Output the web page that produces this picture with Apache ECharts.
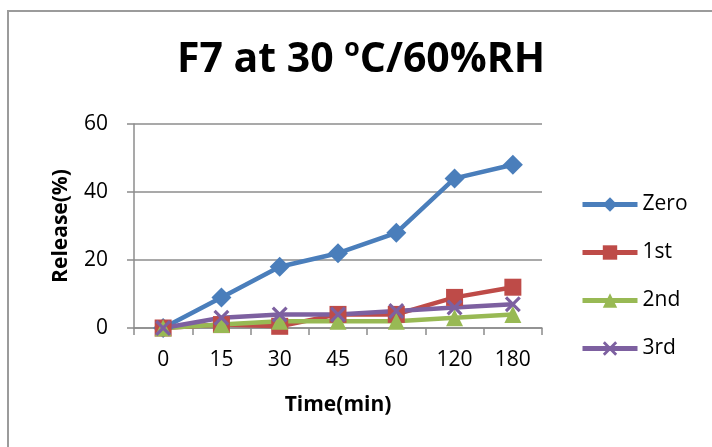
<!DOCTYPE html>
<html>
<head>
<meta charset="utf-8">
<script src="https://cdn.jsdelivr.net/npm/echarts@6/dist/echarts.min.js"></script>
<style>
  html, body { margin: 0; padding: 0; background: #fff; }
  #chart { width: 712px; height: 447px; }
</style>
</head>
<body>
<div id="chart"></div>
<script>
// Sampling times (min)
const times = ['0', '15', '30', '45', '60', '120', '180'];
// Release (%) per order
const zero = [0, 9, 18, 22, 28, 44, 48];
const first = [0, 1, 0.5, 4, 4, 9, 12];
const second = [0, 1, 2, 2, 2, 3, 4];
const third = [0, 3, 4, 4, 5, 6, 7];
const yTicks = { min: 0, max: 60, step: 20 };

const FONT = '"Open Sans", sans-serif';
const GRID = '#8c8c8c';
const crossPath = 'path://M0,1.4L1.4,0L5,3.6L8.6,0L10,1.4L6.4,5L10,8.6L8.6,10L5,6.4L1.4,10L0,8.6L3.6,5Z';

function series(name, data, color, symbol, size) {
  return {
    name: name,
    type: 'line',
    data: data,
    symbol: symbol,
    symbolSize: size,
    lineStyle: { color: color, width: 4.5 },
    itemStyle: { color: color },
    emphasis: { disabled: true },
    animation: false
  };
}

const chart = echarts.init(document.getElementById('chart'), null, { renderer: 'canvas' });
chart.setOption({
  backgroundColor: '#fff',
  animation: false,
  graphic: [{
    type: 'rect',
    shape: { x: 8, y: 11, width: 740, height: 470 },
    style: { fill: 'none', stroke: '#9b9b9b', lineWidth: 2 },
    silent: true
  }],
  title: {
    text: '{a|F7 at 30 }{s|o}{a|C/60%RH}',
    left: 172,
    top: 30,
    textStyle: {
      rich: {
        a: { fontFamily: FONT, fontWeight: 'bold', fontSize: 41, color: '#000', lineHeight: 50 },
        s: { fontFamily: FONT, fontWeight: 'bold', fontSize: 25, color: '#000', lineHeight: 50, padding: [0, 0, 22, 0] }
      }
    }
  },
  grid: { left: 134, right: 170, top: 124, bottom: 119, containLabel: false },
  legend: {
    orient: 'vertical',
    left: 575,
    top: 189,
    itemWidth: 55,
    itemHeight: 18,
    itemGap: 27,
    lineStyle: { width: 5 },
    textStyle: { fontFamily: FONT, fontSize: 21, color: '#000' },
    data: ['Zero', '1st', '2nd', '3rd']
  },
  xAxis: {
    type: 'category',
    data: times,
    boundaryGap: true,
    axisLine: { lineStyle: { color: GRID, width: 1.5 } },
    axisTick: { show: true, length: 7, lineStyle: { color: GRID, width: 1.5 } },
    axisLabel: { fontFamily: FONT, fontSize: 21, color: '#000', margin: 22 },
    name: 'Time(min)',
    nameLocation: 'middle',
    nameGap: 67,
    nameTextStyle: { fontFamily: FONT, fontWeight: 'bold', fontSize: 21, color: '#000' }
  },
  yAxis: {
    type: 'value',
    min: yTicks.min,
    max: yTicks.max,
    interval: yTicks.step,
    axisLine: { show: true, lineStyle: { color: GRID, width: 1.5 } },
    axisTick: { show: true, length: 7, lineStyle: { color: GRID, width: 1.5 } },
    axisLabel: { fontFamily: FONT, fontSize: 21, color: '#000', margin: 26 },
    splitLine: { lineStyle: { color: GRID, width: 1.5 } },
    name: 'Release(%)',
    nameLocation: 'middle',
    nameGap: 62,
    nameTextStyle: { fontFamily: FONT, fontWeight: 'bold', fontSize: 21, color: '#000' }
  },
  series: [
    series('Zero', zero, '#4a7ebb', 'diamond', 20),
    series('1st', first, '#be4b48', 'rect', 17),
    series('2nd', second, '#98b954', 'triangle', 17),
    series('3rd', third, '#7d60a0', crossPath, 16)
  ]
});
</script>
</body>
</html>
